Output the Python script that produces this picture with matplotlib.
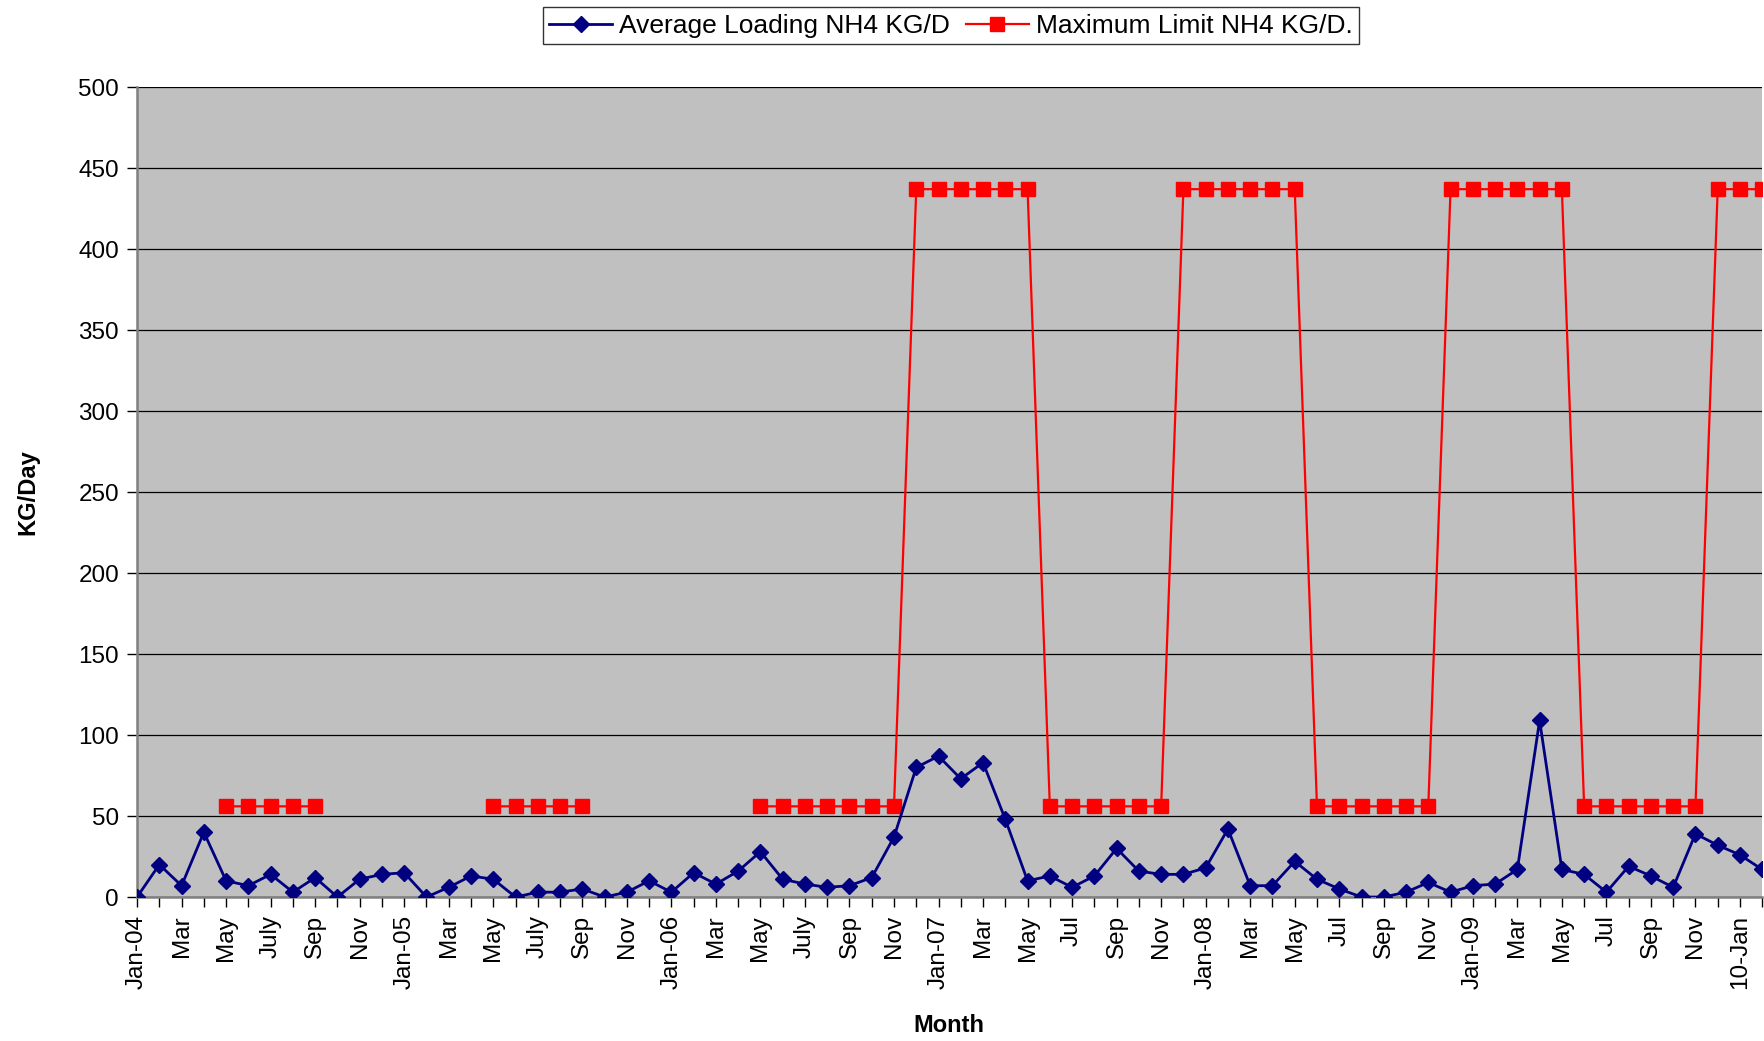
import numpy as np
import matplotlib
matplotlib.use("Agg")
import matplotlib.pyplot as plt

plt.rcParams['font.family'] = ['Liberation Sans', 'DejaVu Sans']

# ---- data ----
x_labels = ['Jan-04', '', 'Mar', '', 'May', '', 'July', '', 'Sep', '', 'Nov', '',
            'Jan-05', '', 'Mar', '', 'May', '', 'July', '', 'Sep', '', 'Nov', '',
            'Jan-06', '', 'Mar', '', 'May', '', 'July', '', 'Sep', '', 'Nov', '',
            'Jan-07', '', 'Mar', '', 'May', '', 'Jul', '', 'Sep', '', 'Nov', '',
            'Jan-08', '', 'Mar', '', 'May', '', 'Jul', '', 'Sep', '', 'Nov', '',
            'Jan-09', '', 'Mar', '', 'May', '', 'Jul', '', 'Sep', '', 'Nov', '',
            '10-Jan', '']

avg_loading = [0, 20, 7, 40, 10, 7, 14, 3, 12, 0, 11, 14,
               15, 0, 6, 13, 11, 0, 3, 3, 5, 0, 3, 10,
               3, 15, 8, 16, 28, 11, 8, 6, 7, 12, 37, 80,
               87, 73, 83, 48, 10, 13, 6, 13, 30, 16, 14, 14,
               18, 42, 7, 7, 22, 11, 5, 0, 0, 3, 9, 3,
               7, 8, 17, 109, 17, 14, 3, 19, 13, 6, 39, 32,
               26, 17]

nan = np.nan
max_limit = [nan, nan, nan, nan, 56, 56, 56, 56, 56, nan, nan, nan,
             nan, nan, nan, nan, 56, 56, 56, 56, 56, nan, nan, nan,
             nan, nan, nan, nan, 56, 56, 56, 56, 56, 56, 56, 437,
             437, 437, 437, 437, 437, 56, 56, 56, 56, 56, 56, 437,
             437, 437, 437, 437, 437, 56, 56, 56, 56, 56, 56, 437,
             437, 437, 437, 437, 437, 56, 56, 56, 56, 56, 56, 437,
             437, 437]

y_ticks = [0, 50, 100, 150, 200, 250, 300, 350, 400, 450, 500]

# ---- plot ----
x = np.arange(len(avg_loading))
fig = plt.figure(figsize=(17.64, 10.41), dpi=100)
ax = fig.add_axes([0.0777, 0.1383, 0.9213, 0.778])
ax.set_facecolor('#C0C0C0')

ax.plot(x, max_limit, color='#FF0000', lw=1.6, marker='s', ms=10,
        markerfacecolor='#FF0000', markeredgecolor='#FF0000',
        label='Maximum Limit NH4 KG/D.', zorder=3)
ax.plot(x, avg_loading, color='#000080', lw=2.0, marker='D', ms=8.5,
        markerfacecolor='#000080', markeredgecolor='#000080',
        label='Average Loading NH4 KG/D', zorder=4)

ax.set_xlim(0, len(avg_loading) - 1)
ax.set_ylim(0, 500)
ax.set_yticks(y_ticks)
ax.yaxis.grid(True, color='black', lw=0.9)
ax.set_axisbelow(True)
ax.set_xticks(x)
ax.set_xticklabels(x_labels, rotation=90, fontsize=17.5)
ax.tick_params(axis='y', labelsize=17.5, direction='out', length=7, width=1, color='black', pad=6)
ax.tick_params(axis='x', direction='out', length=7, width=1, color='black', pad=6)

for s in ['top', 'right']:
    ax.spines[s].set_visible(False)
ax.spines['left'].set_color('#808080')
ax.spines['left'].set_linewidth(1.8)
ax.spines['bottom'].set_color('#808080')
ax.spines['bottom'].set_linewidth(1.8)

ax.set_ylabel('KG/Day', fontsize=17, fontweight='bold')
ax.yaxis.set_label_coords(-0.06, 0.5)
fig.text(0.538, 1 - 1025 / 1041, 'Month', fontsize=17, fontweight='bold',
         ha='center', va='center')

handles, labels = ax.get_legend_handles_labels()
leg = fig.legend(handles[::-1], labels[::-1], loc='upper center',
                 bbox_to_anchor=(0.539, 0.993), ncol=2, fontsize=19,
                 frameon=True, fancybox=False, edgecolor='black',
                 handlelength=2.4, handletextpad=0.25, columnspacing=0.6,
                 borderpad=0.25, borderaxespad=0.0, markerscale=1.0)
leg.get_frame().set_linewidth(1.0)

fig.savefig('out.png', dpi=100)
